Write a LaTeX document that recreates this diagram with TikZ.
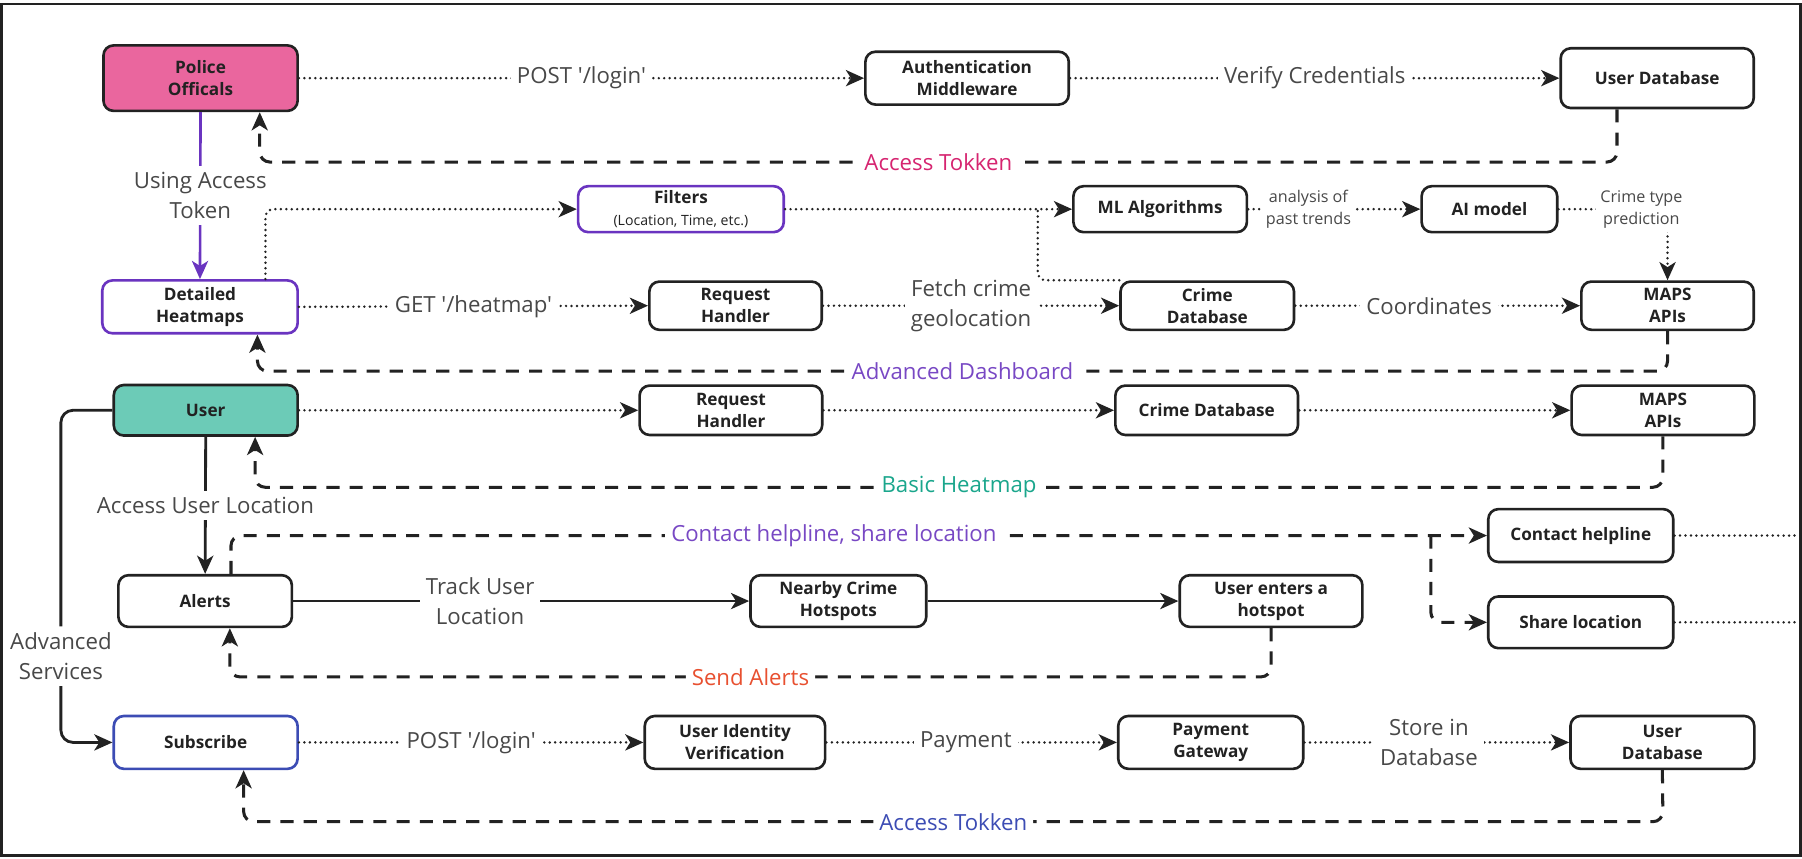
\documentclass[tikz,border=0pt]{standalone}
\usepackage{fontspec}
\setmainfont{Open Sans}[Ligatures=TeXOff]
\usetikzlibrary{arrows.meta}

\definecolor{policepink}{RGB}{234,102,158}
\definecolor{userteal}{RGB}{108,203,183}
\definecolor{dashpurple}{RGB}{106,52,192}
\definecolor{textpurple}{RGB}{120,72,196}
\definecolor{subblue}{RGB}{60,76,180}
\definecolor{tokkenpink}{RGB}{214,36,112}
\definecolor{heatteal}{RGB}{26,166,140}
\definecolor{alertred}{RGB}{232,80,48}
\definecolor{lblgray}{RGB}{72,72,72}
\definecolor{inkgray}{RGB}{34,34,34}

\begin{document}
\begin{tikzpicture}[x=0.02cm,y=-0.02cm,
    box/.style={draw=inkgray,line width=1.3pt,rounded corners=5pt,fill=white,
      align=center,text=inkgray,inner sep=1pt,
      font=\fontsize{8.5}{10.8}\selectfont\bfseries},
    lbl/.style={fill=white,text=lblgray,align=center,inner sep=3pt,
      font=\fontsize{11}{15}\selectfont},
    smalllbl/.style={fill=white,text=lblgray,align=center,inner sep=2pt,
      font=\fontsize{8}{11}\selectfont},
    arr/.style={-{Stealth[length=9pt,width=8pt,inset=2.5pt]}},
    dotline/.style={inkgray,line width=1.35pt,line cap=round,dash pattern=on 0pt off 2.7pt},
    dashline/.style={inkgray,line width=1.5pt,dash pattern=on 6.5pt off 5pt,rounded corners=5pt},
    solidline/.style={inkgray,line width=1.4pt}]
  \useasboundingbox (0,0) rectangle (1568,747);
  \draw[inkgray,line width=1.4pt] (1.5,3.5) rectangle (1566.5,744.5);
  \coordinate (edge) at (1566,0);

  % police side
  \node[box,fill=policepink,minimum width=3.38cm,minimum height=1.14cm] (po) at (174.5,68) {Police\\Officals};
  \node[box,minimum width=3.54cm,minimum height=0.92cm] (auth) at (841.5,68) {Authentication\\Middleware};
  \node[box,minimum width=3.36cm,minimum height=1.04cm] (udbA) at (1442,68) {User Database};
  \node[box,draw=dashpurple,minimum width=3.58cm,minimum height=0.8cm] (filt) at (592.5,182)
    {Filters\\{\mdseries\fontsize{7}{9}\selectfont (Location, Time, etc.)}};
  \node[box,minimum width=3.02cm,minimum height=0.8cm] (ml) at (1009.5,182) {ML Algorithms};
  \node[box,minimum width=2.36cm,minimum height=0.8cm] (ai) at (1296,182) {AI model};
  \node[box,draw=dashpurple,minimum width=3.4cm,minimum height=0.92cm] (dh) at (174,267) {Detailed\\Heatmaps};
  \node[box,minimum width=3cm,minimum height=0.84cm] (rhA) at (640,266) {Request\\Handler};
  \node[box,minimum width=3.02cm,minimum height=0.84cm] (cdbA) at (1050.5,266) {Crime\\Database};
  \node[box,minimum width=3cm,minimum height=0.84cm] (mapsA) at (1451,266) {MAPS\\APIs};

  % user side
  \node[box,fill=userteal,minimum width=3.2cm,minimum height=0.88cm] (user) at (179,357) {User};
  \node[box,minimum width=3.18cm,minimum height=0.86cm] (rhB) at (636,357) {Request\\Handler};
  \node[box,minimum width=3.18cm,minimum height=0.86cm] (cdbB) at (1050,357) {Crime Database};
  \node[box,minimum width=3.18cm,minimum height=0.86cm] (mapsB) at (1447,357) {MAPS\\APIs};
  \node[box,minimum width=3.02cm,minimum height=0.9cm] (alerts) at (178.5,523) {Alerts};
  \node[box,minimum width=3.06cm,minimum height=0.9cm] (nearby) at (729.5,523) {Nearby Crime\\Hotspots};
  \node[box,minimum width=3.18cm,minimum height=0.9cm] (ueh) at (1106,523) {User enters a\\hotspot};
  \node[box,minimum width=3.22cm,minimum height=0.92cm] (chelp) at (1375.5,466) {Contact helpline};
  \node[box,minimum width=3.22cm,minimum height=0.9cm] (share) at (1375.5,541.5) {Share location};
  \node[box,draw=subblue,minimum width=3.2cm,minimum height=0.92cm] (sub) at (179,646) {Subscribe};
  \node[box,minimum width=3.14cm,minimum height=0.92cm] (uiv) at (639.5,646) {User Identity\\Verification};
  \node[box,minimum width=3.22cm,minimum height=0.92cm] (pg) at (1053.5,646) {Payment\\Gateway};
  \node[box,minimum width=3.2cm,minimum height=0.92cm] (udbB) at (1446.5,646) {User\\Database};

  % login
  \draw[dotline,arr] (po.east) -- node[lbl]{POST '/login'} (auth.west);
  \draw[dotline,arr] (auth.east) -- node[lbl]{Verify Credentials} (udbA.west);
  \draw[dashline,arr] (udbA.south -| 1407,0) -- (1407,141)
    -- node[lbl,text=tokkenpink]{Access Tokken} (226,141) -- (po.south -| 226,0);
  \draw[dashpurple,line width=1.3pt,arr] (po.south) -- node[lbl]{Using Access\\Token} (dh.north);

  % detailed heatmaps
  \draw[dotline,arr,rounded corners=4pt] (dh.north -| 231,0) |- (filt.west);
  \draw[dotline,arr] (filt.east) -- (ml.west);
  \draw[dotline,rounded corners=4pt] (cdbA.north west) -| (ml.west -| 903,0);
  \draw[dotline,arr] (ml.east) -- node[smalllbl,pos=0.35]{analysis of\\past trends} (ai.west);
  \draw[dotline,arr] (ai.east) -| node[smalllbl,pos=0.38]{Crime type\\prediction} (mapsA.north);
  \draw[dotline,arr] (dh.east) -- node[lbl]{GET '/heatmap'} (rhA.west);
  \draw[dotline,arr] (rhA.east) -- node[lbl]{Fetch crime\\geolocation} (cdbA.west);
  \draw[dotline,arr] (cdbA.east) -- node[lbl,pos=0.47]{Coordinates} (mapsA.west);
  \draw[dashline,arr] (mapsA.south) -- (1451,323)
    -- node[lbl,text=textpurple]{Advanced Dashboard} (224,323) -- (dh.south -| 224,0);

  % basic heatmap
  \draw[dotline,arr] (user.east) -- (rhB.west);
  \draw[dotline,arr] (rhB.east) -- (cdbB.west);
  \draw[dotline,arr] (cdbB.east) -- (mapsB.west);
  \draw[dashline,arr] (mapsB.south) -- (1447,424)
    -- node[lbl,text=heatteal]{Basic Heatmap} (222,424) -- (user.south -| 222,0);

  % alerts
  \draw[solidline,arr] (user.south) -- node[lbl]{Access User Location} (alerts.north);
  \draw[solidline,arr] (alerts.east) -- node[lbl,pos=0.41]{Track User\\Location} (nearby.west);
  \draw[solidline,arr] (nearby.east) -- (ueh.west);
  \draw[dashline,arr] (ueh.south) -- (1106,589)
    -- node[lbl,text=alertred]{Send Alerts} (200,589) -- (alerts.south -| 200,0);
  \draw[dashline,arr] (alerts.north -| 201,0) |- node[lbl,pos=0.74,text=textpurple]{Contact helpline, share location} (chelp.west);
  \coordinate (fork) at (1245,466);
  \draw[dashline,arr] (fork) |- (share.west);
  \draw[dotline] (chelp.east) -- (chelp.east -| edge);
  \draw[dotline] (share.east) -- (share.east -| edge);

  % subscription
  \draw[solidline,arr,rounded corners=6pt] (user.west) -- (53,357)
    -- node[lbl,pos=0.74]{Advanced\\Services} (53,646) -- (sub.west);
  \draw[dotline,arr] (sub.east) -- node[lbl]{POST '/login'} (uiv.west);
  \draw[dotline,arr] (uiv.east) -- node[lbl,pos=0.48]{Payment} (pg.west);
  \draw[dotline,arr] (pg.east) -- node[lbl,pos=0.47]{Store in\\Database} (udbB.west);
  \draw[dashline,arr] (udbB.south) -- (1447,715)
    -- node[lbl,text=subblue]{Access Tokken} (212,715) -- (sub.south -| 212,0);
\end{tikzpicture}
\end{document}
